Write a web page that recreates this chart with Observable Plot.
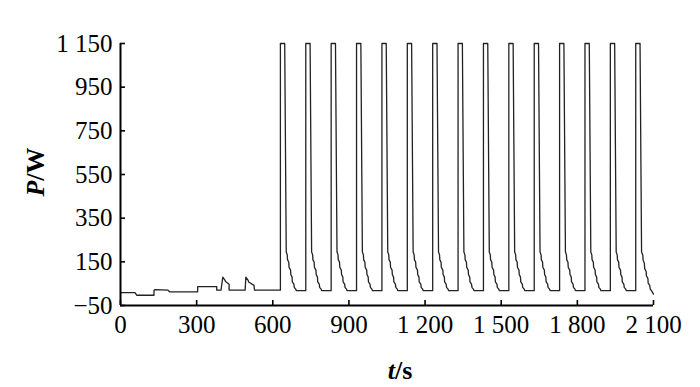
<!DOCTYPE html>
<html>
<head>
<meta charset="utf-8">
<script src="https://cdn.jsdelivr.net/npm/d3@7"></script>
<script src="https://cdn.jsdelivr.net/npm/@observablehq/plot@0.6"></script>
<style>
  html, body { margin: 0; padding: 0; background: #fff; }
  #chart svg { display: block; }
</style>
</head>
<body>
<div id="chart"></div>
<script>
// Time (s) and power (W)
const time = [
  0, 57, 64, 132, 132, 136, 187, 195, 304, 304, 379, 379, 396, 403, 412, 414, 428, 428, 491, 494, 503, 505, 526, 528,
  630, 630, 647, 653, 657, 658, 663, 664, 670, 671, 676, 677, 683, 685, 690, 693,
  730, 730, 747, 753, 757, 758, 763, 764, 770, 771, 776, 777, 783, 785, 790, 793,
  830, 830, 847, 853, 857, 858, 863, 864, 870, 871, 876, 877, 883, 885, 890, 893,
  930, 930, 947, 953, 957, 958, 963, 964, 970, 971, 976, 977, 983, 985, 990, 993,
  1030, 1030, 1047, 1053, 1057, 1058, 1063, 1064, 1070, 1071, 1076, 1077, 1083, 1085, 1090, 1093,
  1130, 1130, 1147, 1153, 1157, 1158, 1163, 1164, 1170, 1171, 1176, 1177, 1183, 1185, 1190, 1193,
  1230, 1230, 1247, 1253, 1257, 1258, 1263, 1264, 1270, 1271, 1276, 1277, 1283, 1285, 1290, 1293,
  1330, 1330, 1347, 1353, 1357, 1358, 1363, 1364, 1370, 1371, 1376, 1377, 1383, 1385, 1390, 1393,
  1430, 1430, 1447, 1453, 1457, 1458, 1463, 1464, 1470, 1471, 1476, 1477, 1483, 1485, 1490, 1493,
  1530, 1530, 1547, 1553, 1557, 1558, 1563, 1564, 1570, 1571, 1576, 1577, 1583, 1585, 1590, 1593,
  1630, 1630, 1647, 1653, 1657, 1658, 1663, 1664, 1670, 1671, 1676, 1677, 1683, 1685, 1690, 1693,
  1730, 1730, 1747, 1753, 1757, 1758, 1763, 1764, 1770, 1771, 1776, 1777, 1783, 1785, 1790, 1793,
  1830, 1830, 1847, 1853, 1857, 1858, 1863, 1864, 1870, 1871, 1876, 1877, 1883, 1885, 1890, 1893,
  1930, 1930, 1947, 1953, 1957, 1958, 1963, 1964, 1970, 1971, 1976, 1977, 1983, 1985, 1990, 1993,
  2030, 2030, 2047, 2053, 2058, 2059, 2064, 2065, 2071, 2072, 2078, 2079, 2085, 2087, 2093, 2100
];
const power = [
  9, 9, -3, -3, 20, 23, 20, 12, 12, 36, 36, 20, 20, 80, 65, 60, 47, 20, 20, 80, 65, 58, 42, 20,
  20, 1150, 1150, 195, 182, 160, 148, 125, 112, 92, 80, 58, 48, 32, 26, 18,
  18, 1150, 1150, 195, 182, 160, 148, 125, 112, 92, 80, 58, 48, 32, 26, 18,
  18, 1150, 1150, 195, 182, 160, 148, 125, 112, 92, 80, 58, 48, 32, 26, 18,
  18, 1150, 1150, 195, 182, 160, 148, 125, 112, 92, 80, 58, 48, 32, 26, 18,
  18, 1150, 1150, 195, 182, 160, 148, 125, 112, 92, 80, 58, 48, 32, 26, 18,
  18, 1150, 1150, 195, 182, 160, 148, 125, 112, 92, 80, 58, 48, 32, 26, 18,
  18, 1150, 1150, 195, 182, 160, 148, 125, 112, 92, 80, 58, 48, 32, 26, 18,
  18, 1150, 1150, 195, 182, 160, 148, 125, 112, 92, 80, 58, 48, 32, 26, 18,
  18, 1150, 1150, 195, 182, 160, 148, 125, 112, 92, 80, 58, 48, 32, 26, 18,
  18, 1150, 1150, 195, 182, 160, 148, 125, 112, 92, 80, 58, 48, 32, 26, 18,
  18, 1150, 1150, 195, 182, 160, 148, 125, 112, 92, 80, 58, 48, 32, 26, 18,
  18, 1150, 1150, 195, 182, 160, 148, 125, 112, 92, 80, 58, 48, 32, 26, 18,
  18, 1150, 1150, 195, 182, 160, 148, 125, 112, 92, 80, 58, 48, 32, 26, 18,
  18, 1150, 1150, 195, 182, 160, 148, 125, 112, 92, 80, 58, 48, 32, 26, 18,
  18, 1150, 1150, 195, 180, 158, 143, 120, 106, 86, 73, 52, 42, 26, 16, 2
];
const xTicks = [0, 300, 600, 900, 1200, 1500, 1800, 2100];
const yTicks = [-50, 150, 350, 550, 750, 950, 1150];

const data = time.map((t, i) => ({t, p: power[i]}));

const fmt = d => (d < 0 ? "\u2212" : "") + String(Math.abs(d)).replace(/\B(?=(\d{3})+(?!\d))/g, " ");

const W = 700, H = 387;
const mL = 120, mR = 47, mT = 43, mB = 82;

const chart = Plot.plot({
  width: W,
  height: H,
  marginLeft: mL,
  marginRight: mR,
  marginTop: mT,
  marginBottom: mB,
  style: {fontFamily: "'Liberation Serif', 'DejaVu Serif', serif", fontSize: "25px", color: "#000", background: "#fff"},
  x: {domain: [0, 2100]},
  y: {domain: [-50, 1150]},
  marks: [
    Plot.axisX({ticks: xTicks, tickFormat: fmt, tickSize: -5, tickPadding: 15, label: null, strokeWidth: 1.6}),
    Plot.axisY({ticks: yTicks, tickFormat: fmt, tickSize: -5, tickPadding: 13, label: null, strokeWidth: 1.6}),
    Plot.line(data, {x: "t", y: "p", stroke: "#222", strokeWidth: 1.3}),
    Plot.ruleX([0], {stroke: "#000", strokeWidth: 2}),
    Plot.ruleY([-50], {stroke: "#000", strokeWidth: 2})
  ]
});

const svg = d3.select(chart);
svg.append("text")
  .attr("transform", "translate(35,172) rotate(-90)")
  .attr("text-anchor", "middle")
  .attr("dy", "0.35em")
  .style("font-family", "'Liberation Serif', serif")
  .style("font-size", "26px")
  .style("font-weight", "bold")
  .call(t => {
    t.append("tspan").style("font-style", "italic").text("P");
    t.append("tspan").text("/W");
  });
svg.append("text")
  .attr("x", 400)
  .attr("y", 370)
  .attr("text-anchor", "middle")
  .attr("dy", "0.35em")
  .style("font-family", "'Liberation Serif', serif")
  .style("font-size", "26px")
  .style("font-weight", "bold")
  .call(t => {
    t.append("tspan").style("font-style", "italic").text("t");
    t.append("tspan").text("/s");
  });

document.getElementById("chart").append(chart);
</script>
</body>
</html>
